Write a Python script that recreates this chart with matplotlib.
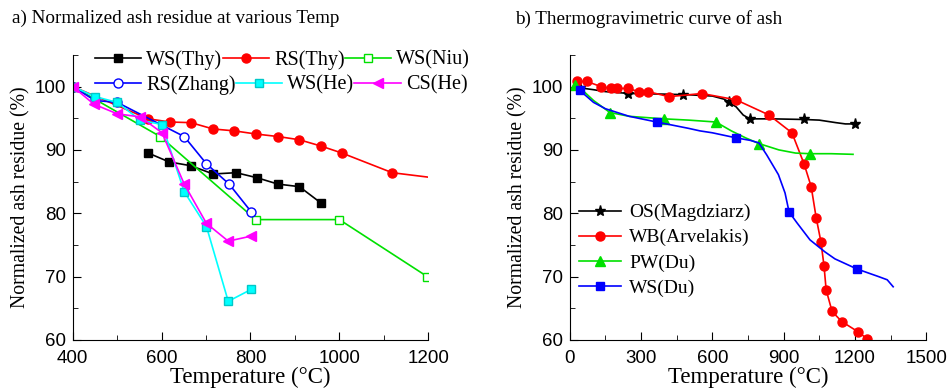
import matplotlib
matplotlib.use('Agg')
import matplotlib.pyplot as plt
from matplotlib.ticker import MultipleLocator

plt.rcParams['font.family'] = 'Liberation Serif'

# ---- panel a) data ----
ws_thy_t = [570, 617, 666, 716, 768, 815, 862, 910, 959]
ws_thy_y = [89.5, 88.1, 87.5, 86.2, 86.4, 85.6, 84.6, 84.2, 81.6]

rs_thy_t = [400, 570, 619, 666, 716, 764, 813, 863, 910, 959, 1006, 1119]
rs_thy_y = [100, 94.9, 94.4, 94.3, 93.3, 93.0, 92.5, 92.1, 91.6, 90.6, 89.5, 86.4]
rs_thy_end_t = [1119, 1200]
rs_thy_end_y = [86.4, 85.7]

ws_niu_t = [400, 597, 812, 1000, 1198]
ws_niu_y = [100, 92.1, 79.0, 79.0, 70.0]

rs_zhang_t = [400, 450, 500, 651, 701, 752, 802]
rs_zhang_y = [100, 97.8, 97.5, 92.1, 87.8, 84.6, 80.2]

ws_he_t = [400, 451, 500, 552, 601, 651, 701, 750, 802]
ws_he_y = [100, 98.4, 97.5, 94.7, 94.0, 83.4, 77.9, 66.1, 68.0]

cs_he_t = [400, 448, 500, 552, 601, 651, 701, 750, 802]
cs_he_y = [100, 97.2, 95.7, 95.2, 92.7, 84.6, 78.4, 75.6, 76.4]

# ---- panel b) data: curves ----
os_line_t = [42, 100, 150, 250, 400, 500, 600, 650, 670, 700, 730, 758, 850, 986, 1050, 1120, 1160, 1201]
os_line_y = [99.8, 99.5, 99.2, 98.9, 98.8, 98.7, 98.5, 98.0, 97.5, 96.8, 95.5, 94.9, 94.9, 94.8, 94.7, 94.3, 94.1, 94.1]
os_mark_t = [42, 245, 475, 670, 758, 986, 1201]
os_mark_y = [99.8, 98.9, 98.7, 97.5, 94.9, 94.8, 94.1]

wb_t = [29, 72, 131, 173, 198, 244, 291, 329, 417, 556, 700, 839, 935, 986,
        1016, 1037, 1057, 1070, 1079, 1104, 1145, 1213, 1251]
wb_y = [100.8, 100.8, 100.0, 99.7, 99.7, 99.7, 99.2, 99.2, 98.4, 98.9, 97.9, 95.5, 92.7, 87.8,
        84.2, 79.3, 75.5, 71.7, 67.9, 64.5, 62.9, 61.3, 60.2]

pw_line_t = [21, 60, 100, 169, 250, 396, 500, 615, 680, 740, 796, 880, 950, 1011, 1100, 1192]
pw_line_y = [100.2, 99.2, 97.8, 95.9, 95.3, 94.9, 94.7, 94.4, 93.0, 91.9, 91.0, 90.0, 89.5, 89.4, 89.4, 89.3]
pw_mark_t = [21, 169, 396, 615, 796, 1011]
pw_mark_y = [100.2, 95.9, 94.9, 94.4, 91.0, 89.4]

ws_du_line_t = [42, 100, 150, 250, 366, 500, 548, 600, 700, 760, 796, 829, 878, 906, 923,
                956, 1011, 1074, 1116, 1209, 1300, 1336, 1361]
ws_du_line_y = [99.4, 97.5, 96.5, 95.3, 94.4, 93.4, 93.0, 92.7, 91.9, 91.5, 91.1, 89.2, 86.1, 83.2, 80.2,
                78.5, 75.8, 73.9, 72.8, 71.2, 70.0, 69.5, 68.4]
ws_du_mark_t = [42, 366, 700, 923, 1209]
ws_du_mark_y = [99.4, 94.4, 91.9, 80.2, 71.2]

fig = plt.figure(figsize=(9.48, 3.89), dpi=100)
ax1 = fig.add_axes([0.0767, 0.126, 0.375, 0.733])
ax2 = fig.add_axes([0.601, 0.126, 0.376, 0.733])

lw = 1.2
ms = 6
green = '#00e000'

h1, = ax1.plot(ws_thy_t, ws_thy_y, '-s', color='black', lw=lw, ms=ms, label='WS(Thy)')
h2, = ax1.plot(rs_thy_t, rs_thy_y, '-o', color='red', lw=lw, ms=ms + 0.5, label='RS(Thy)')
ax1.plot(rs_thy_end_t, rs_thy_end_y, '-', color='red', lw=lw)
h3, = ax1.plot(ws_niu_t, ws_niu_y, '-s', color=green, mfc='white', lw=lw, ms=ms, label='WS(Niu)')
h4, = ax1.plot(rs_zhang_t, rs_zhang_y, '-o', color='blue', mfc='white', lw=lw, ms=ms + 0.5, label='RS(Zhang)')
h5, = ax1.plot(ws_he_t, ws_he_y, '-s', color='cyan', mfc='cyan', mec='#00c8c8', lw=lw, ms=ms, label='WS(He)')
h6, = ax1.plot(cs_he_t, cs_he_y, '-<', color='magenta', lw=lw, ms=ms + 1.5, label='CS(He)')

ax1.set_xlim(400, 1200)
ax1.set_ylim(60, 105)
ax1.xaxis.set_major_locator(MultipleLocator(200))
ax1.xaxis.set_minor_locator(MultipleLocator(100))

# two legend rows, each packed on its own (as in the original)
leg_kw = dict(ncol=3, loc='center left', frameon=False, fontsize=14.5,
              handlelength=2.3, handletextpad=0.25, columnspacing=0.0,
              borderaxespad=0, borderpad=0)
leg_a = ax1.legend([h1, h2, h3], ['WS(Thy)', 'RS(Thy)', 'WS(Niu)'],
                   bbox_to_anchor=(0.063, 0.982), **leg_kw)
ax1.add_artist(leg_a)
ax1.legend([h4, h5, h6], ['RS(Zhang)', 'WS(He)', 'CS(He)'],
           bbox_to_anchor=(0.063, 0.895), **leg_kw)

ax2.plot(os_line_t, os_line_y, '-', color='black', lw=lw)
ax2.plot(os_mark_t, os_mark_y, '*', color='black', ms=ms + 2, ls='none')
ax2.plot(wb_t, wb_y, '-o', color='red', lw=lw, ms=ms + 0.5)
ax2.plot(pw_line_t, pw_line_y, '-', color=green, lw=lw)
ax2.plot(pw_mark_t, pw_mark_y, '^', color=green, ms=ms + 1.5, ls='none')
ax2.plot(ws_du_line_t, ws_du_line_y, '-', color='blue', lw=lw)
ax2.plot(ws_du_mark_t, ws_du_mark_y, 's', color='blue', ms=ms, ls='none')

# legend handles for panel b
lh = [
    ax2.plot([], [], '-*', color='black', lw=lw, ms=ms + 2)[0],
    ax2.plot([], [], '-o', color='red', lw=lw, ms=ms + 0.5)[0],
    ax2.plot([], [], '-^', color=green, lw=lw, ms=ms + 1.5)[0],
    ax2.plot([], [], '-s', color='blue', lw=lw, ms=ms)[0],
]
ax2.legend(lh, ['OS(Magdziarz)', 'WB(Arvelakis)', 'PW(Du)', 'WS(Du)'],
           loc='lower left', bbox_to_anchor=(0.005, 0.125), frameon=False,
           fontsize=14, handlelength=2.15, handletextpad=0.4, labelspacing=0.38,
           borderaxespad=0)

ax2.set_xlim(0, 1500)
ax2.set_ylim(60, 105)
ax2.xaxis.set_major_locator(MultipleLocator(300))
ax2.xaxis.set_minor_locator(MultipleLocator(150))

for ax in (ax1, ax2):
    ax.yaxis.set_major_locator(MultipleLocator(10))
    ax.yaxis.set_minor_locator(MultipleLocator(5))
    ax.spines['top'].set_visible(False)
    ax.spines['right'].set_visible(False)
    ax.tick_params(which='both', direction='in', labelsize=13.5)
    ax.tick_params(which='major', length=6)
    ax.tick_params(which='minor', length=3.5)
    ax.tick_params(axis='x', pad=7)
    ax.tick_params(axis='y', pad=5)
    for lab in ax.get_xticklabels() + ax.get_yticklabels():
        lab.set_fontfamily('Liberation Sans')
    ax.set_ylabel('Normalized ash residue (%)', fontsize=14.2, labelpad=3)
    ax.set_xlabel('Temperature (°C)', fontsize=16.5, labelpad=0)

fig.text(0.013, 0.952, 'a) Normalized ash residue at various Temp', fontsize=13.8, va='center')
fig.text(0.543, 0.952, 'b) Thermogravimetric curve of ash', fontsize=13.8, va='center')

fig.savefig('out.png', dpi=100)
